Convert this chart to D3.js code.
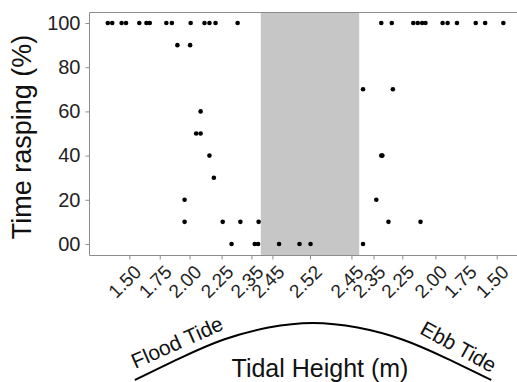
<!DOCTYPE html>
<html>
<head>
<meta charset="utf-8">
<script src="https://cdn.jsdelivr.net/npm/d3@7"></script>
<style>
  body { margin: 0; background: #fff; }
  svg { display: block; }
  text { font-family: "Liberation Sans", Arial, sans-serif; }
</style>
</head>
<body>
<script>
// time relative to high tide (h) and tidal height shown on the axis
var tickHours = [-3.27, -2.72, -2.18, -1.60, -1.06, -0.68, 0, 0.75, 1.15, 1.67, 2.27, 2.80, 3.38];
var tickLabels = ["1.50", "1.75", "2.00", "2.25", "2.35", "2.45", "2.52", "2.45", "2.35", "2.25", "2.00", "1.75", "1.50"];

// emersed period (shaded)
var emersed = [-0.89, 0.89];

// observations: hour, % time rasping
var obsHour = [
  -3.66, -3.58, -3.41, -3.33, -3.09, -2.96, -2.90, -2.60, -2.50, -2.16, -1.91, -1.82, -1.71, -1.31,
  1.29, 1.48, 1.87, 1.95, 2.03, 2.09, 2.40, 2.49, 2.66, 3.00, 3.17, 3.50,
  -2.40, -2.17,
  0.96, 1.50,
  -1.98,
  -2.06, -1.98,
  -1.82, 1.29, 1.31,
  -1.74,
  -2.27, 1.20,
  -2.27, -1.58, -1.26, -0.93, 1.42, 2.00,
  -1.42, -1.00, -0.94, -0.56, -0.19, 0.01, 0.96
];
var obsRasp = [
  100, 100, 100, 100, 100, 100, 100, 100, 100, 100, 100, 100, 100, 100,
  100, 100, 100, 100, 100, 100, 100, 100, 100, 100, 100, 100,
  90, 90,
  70, 70,
  60,
  50, 50,
  40, 40, 40,
  30,
  20, 20,
  10, 10, 10, 10, 10, 10,
  0, 0, 0, 0, 0, 0, 0
];

var yTicks = [0, 20, 40, 60, 80, 100];
var yTickLabels = ["00", "20", "40", "60", "80", "100"];

// tide sketch below the axis (hour, relative water level)
var tideHour = [-3.17, -2.36, -1.56, -0.75, 0.05, 0.86, 1.67, 2.47, 3.28];
var tideLevel = [0, 0.38, 0.71, 0.92, 1, 0.92, 0.71, 0.38, 0];

var width = 517, height = 382;
var panel = {left: 89, top: 12, bottom: 255, right: 531};

var svg = d3.select("body").append("svg")
    .attr("width", width)
    .attr("height", height);

var x = d3.scaleLinear().domain([-4, 4]).range([panel.left, panel.right]);
var y = d3.scaleLinear().domain([-5, 105]).range([panel.bottom, panel.top]);

// shaded band
svg.append("rect")
    .attr("x", x(emersed[0]))
    .attr("y", panel.top)
    .attr("width", x(emersed[1]) - x(emersed[0]))
    .attr("height", panel.bottom - panel.top)
    .attr("fill", "#c6c6c6");

// panel border (top, left, bottom)
svg.append("path")
    .attr("d", "M" + width + "," + (panel.top + 0.5) + "H" + (panel.left + 0.5) +
               "V" + (panel.bottom + 0.5) + "H" + width)
    .attr("fill", "none")
    .attr("stroke", "#8c8c8c")
    .attr("stroke-width", 1);

// y axis
var yAxis = svg.append("g")
    .attr("transform", "translate(" + (panel.left + 0.5) + ",0)")
    .call(d3.axisLeft(y).tickValues(yTicks).tickSize(4).tickPadding(5)
      .tickFormat(function(d, i) { return yTickLabels[i]; }));
yAxis.select(".domain").remove();
yAxis.selectAll("line").attr("stroke", "#8c8c8c");
yAxis.selectAll("text")
    .attr("font-family", "Liberation Sans, Arial, sans-serif")
    .attr("font-size", 20)
    .attr("fill", "#222");

// x axis
var xAxis = svg.append("g")
    .attr("transform", "translate(0," + (panel.bottom + 0.5) + ")")
    .call(d3.axisBottom(x).tickValues(tickHours).tickSize(4)
      .tickFormat(function(d, i) { return tickLabels[i]; }));
xAxis.select(".domain").remove();
xAxis.selectAll("line").attr("stroke", "#8c8c8c");
xAxis.selectAll("text")
    .attr("font-family", "Liberation Sans, Arial, sans-serif")
    .attr("font-size", 19)
    .attr("fill", "#222")
    .attr("text-anchor", "end")
    .attr("y", 0)
    .attr("dy", "0.72em")
    .attr("transform", "translate(3,8) rotate(-45)");

// points
svg.append("g")
  .selectAll("circle")
  .data(obsHour)
  .enter().append("circle")
    .attr("cx", function(d) { return x(d); })
    .attr("cy", function(d, i) { return y(obsRasp[i]); })
    .attr("r", 2.3)
    .attr("fill", "#000");

// y title
svg.append("text")
    .attr("transform", "translate(31,137) rotate(-90)")
    .attr("text-anchor", "middle")
    .attr("font-size", 27)
    .attr("fill", "#111")
    .text("Time rasping (%)");

// tide curve
var h = d3.scaleLinear().domain([0, 1]).range([380, 323]);
var tideLine = d3.line()
    .x(function(d) { return x(d); })
    .y(function(d, i) { return h(tideLevel[i]); })
    .curve(d3.curveNatural);
svg.append("path")
    .datum(tideHour)
    .attr("d", tideLine)
    .attr("fill", "none")
    .attr("stroke", "#000")
    .attr("stroke-width", 2);

svg.append("text")
    .attr("transform", "translate(180,349) rotate(-24)")
    .attr("text-anchor", "middle")
    .attr("font-size", 21)
    .attr("fill", "#111")
    .text("Flood Tide");

svg.append("text")
    .attr("transform", "translate(455,353) rotate(29)")
    .attr("text-anchor", "middle")
    .attr("font-size", 21)
    .attr("fill", "#111")
    .text("Ebb Tide");

// x title
svg.append("text")
    .attr("x", 320)
    .attr("y", 377)
    .attr("text-anchor", "middle")
    .attr("font-size", 25)
    .attr("fill", "#111")
    .text("Tidal Height (m)");
</script>
</body>
</html>
